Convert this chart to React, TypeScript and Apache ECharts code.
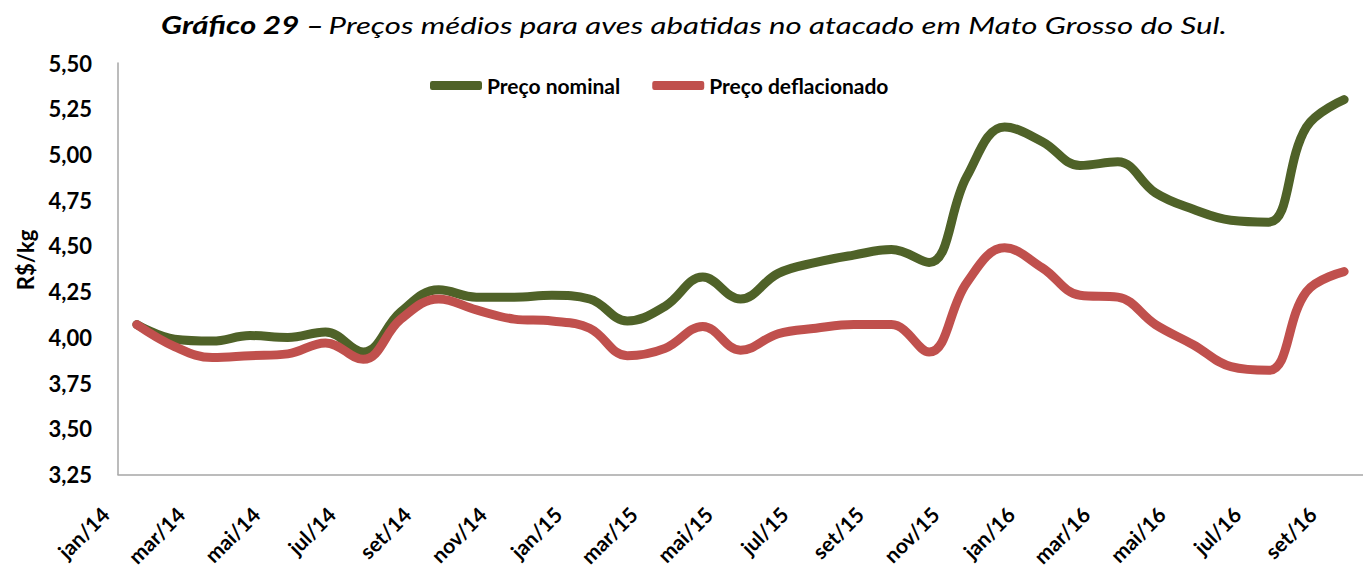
import React, { useEffect, useRef } from "react";
import * as echarts from "echarts";

const months = [
  "jan/14", "fev/14", "mar/14", "abr/14", "mai/14", "jun/14", "jul/14", "ago/14", "set/14", "out/14", "nov/14", "dez/14",
  "jan/15", "fev/15", "mar/15", "abr/15", "mai/15", "jun/15", "jul/15", "ago/15", "set/15", "out/15", "nov/15", "dez/15",
  "jan/16", "fev/16", "mar/16", "abr/16", "mai/16", "jun/16", "jul/16", "ago/16", "set/16",
];

const precoNominal = [
  4.07, 3.99, 3.98, 4.01, 4.0, 4.03, 3.92, 4.14, 4.26, 4.22, 4.22, 4.23,
  4.21, 4.09, 4.17, 4.33, 4.21, 4.35, 4.41, 4.45, 4.48, 4.41, 4.88, 5.15,
  5.07, 4.94, 4.96, 4.79, 4.7, 4.64, 4.63, 5.15, 5.3,
];

const precoDeflacionado = [
  4.07, 3.95, 3.89, 3.9, 3.91, 3.97, 3.88, 4.1, 4.21, 4.15, 4.1, 4.09,
  4.05, 3.9, 3.94, 4.06, 3.93, 4.02, 4.05, 4.07, 4.07, 3.92, 4.3, 4.49,
  4.38, 4.23, 4.22, 4.07, 3.96, 3.84, 3.82, 4.25, 4.36,
];

const seriesNames = ["Preço nominal", "Preço deflacionado"];
const colors = ["#4f6228", "#c0504d"];
const titleBold = "Gráfico 29 –";
const titleText = "Preços médios para aves abatidas no atacado em Mato Grosso do Sul.";
const yAxisName = "R$/kg";

export default function App() {
  const ref = useRef<HTMLDivElement>(null);

  useEffect(() => {
    document.body.style.margin = "0";
    if (!ref.current) return;
    const chart = echarts.init(ref.current, null, { renderer: "svg" });
    const font = "Lato, 'Open Sans', sans-serif";
    chart.setOption({
      animation: false,
      backgroundColor: "#ffffff",
      graphic: [
        {
          type: "text",
          x: 694,
          y: 25,
          scaleX: 1.3,
          style: {
            text: "{b|" + titleBold + "} {i|" + titleText + "}",
            textAlign: "center",
            textVerticalAlign: "middle",
            verticalAlign: "middle",
            rich: {
              b: { fontFamily: font, fontStyle: "italic", fontWeight: "bold", fontSize: 24, fill: "#000", color: "#000" },
              i: { fontFamily: font, fontStyle: "italic", fontWeight: "normal", fontSize: 24, fill: "#000", color: "#000" },
            },
          },
        },
        {
          type: "text",
          x: 25,
          y: 260,
          rotation: Math.PI / 2,
          style: {
            text: yAxisName,
            textAlign: "center",
            textVerticalAlign: "middle",
            verticalAlign: "middle",
            fontFamily: font,
            fontWeight: "bold",
            fontSize: 22,
            fill: "#000",
          },
        },
      ],
      legend: {
        data: seriesNames,
        left: 425,
        top: 70,
        icon: "roundRect",
        itemWidth: 52,
        itemHeight: 9,
        itemGap: 32,
        textStyle: { fontFamily: font, fontWeight: "bold", fontSize: 21, color: "#000" },
      },
      grid: { left: 118, top: 63, width: 1254, height: 414, containLabel: false },
      xAxis: {
        type: "category",
        data: months,
        boundaryGap: true,
        axisLine: { lineStyle: { color: "#a6a6a6", width: 1.5 } },
        axisTick: { show: false },
        axisLabel: {
          interval: 1,
          rotate: 45,
          fontFamily: font,
          fontWeight: "bold",
          fontSize: 21,
          color: "#000",
          margin: 4,
          padding: [0, 45, 0, 0],
        },
        splitLine: { show: false },
      },
      yAxis: {
        type: "value",
        min: 3.25,
        max: 5.5,
        interval: 0.25,
        axisLine: { show: true, lineStyle: { color: "#a6a6a6", width: 1.5 } },
        axisTick: { show: false },
        splitLine: { show: false },
        axisLabel: {
          fontFamily: font,
          fontWeight: "bold",
          fontSize: 22,
          color: "#000",
          margin: 26,
          formatter: (v: number) => v.toFixed(2).replace(".", ","),
        },
      },
      series: [
        {
          name: seriesNames[0],
          type: "line",
          data: precoNominal,
          smooth: 0.4,
          symbol: "none",
          color: colors[0],
          lineStyle: { width: 9, color: colors[0], cap: "round", join: "round" },
        },
        {
          name: seriesNames[1],
          type: "line",
          data: precoDeflacionado,
          smooth: 0.4,
          symbol: "none",
          color: colors[1],
          lineStyle: { width: 9, color: colors[1], cap: "round", join: "round" },
        },
      ],
    });
    return () => chart.dispose();
  }, []);

  return <div ref={ref} style={{ width: 1363, height: 569 }} />;
}
